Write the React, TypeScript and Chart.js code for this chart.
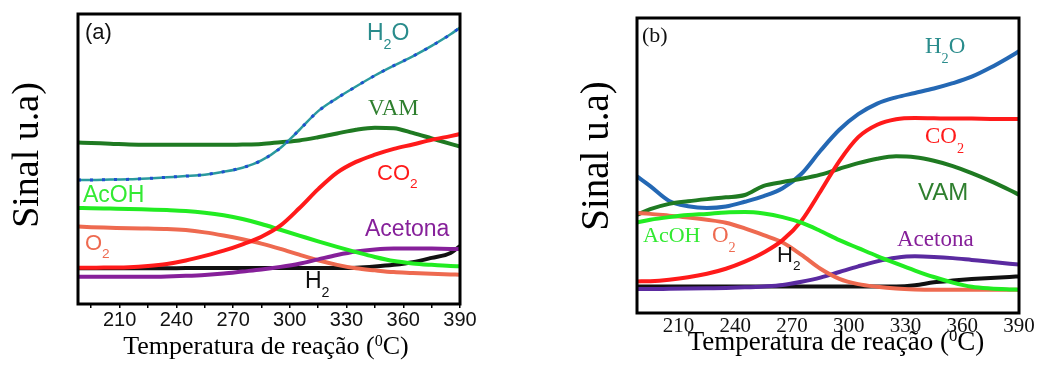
import React, { useEffect, useRef } from 'react';
import { Chart, registerables } from 'chart.js';

Chart.register(...registerables);

// ---------- DATA ----------
const temps = [188, 195, 205, 215, 225, 235, 245, 255, 265, 275, 285, 295, 305, 315, 325, 335, 345, 355, 365, 375, 385, 390];
const xTicksA = [195, 210, 225, 240, 255, 270, 285, 300, 315, 330, 345, 360, 375, 390];
const xTicksB = [210, 240, 270, 300, 330, 360, 390];

// Panel (a)
const h2oA = [42.8, 42.8, 42.9, 43.0, 43.3, 43.7, 44.1, 44.6, 45.6, 47.0, 49.5, 53.8, 60.0, 66.5, 71.0, 75.0, 78.8, 82.2, 85.4, 89.0, 93.0, 95.3];
const vamA = [55.7, 55.5, 55.3, 55.0, 54.9, 54.9, 54.9, 54.9, 54.9, 55.0, 55.2, 55.8, 56.4, 57.5, 58.8, 60.1, 60.8, 60.6, 59.0, 57.1, 55.2, 54.3];
const co2A = [12.5, 12.5, 12.6, 12.7, 13.1, 13.8, 15.0, 16.6, 18.4, 20.6, 23.2, 27.0, 33.0, 39.6, 45.3, 49.0, 51.5, 53.5, 55.0, 56.6, 57.9, 58.6];
const acohA = [33.1, 33.0, 32.9, 32.8, 32.6, 32.4, 32.1, 31.5, 30.6, 29.3, 27.6, 25.6, 23.6, 21.6, 19.7, 17.9, 16.2, 14.8, 14.0, 13.5, 13.1, 13.0];
const o2A = [26.7, 26.5, 26.3, 26.1, 26.0, 25.9, 25.5, 24.7, 23.6, 22.3, 20.8, 19.0, 17.0, 15.1, 13.5, 12.3, 11.6, 11.0, 10.7, 10.4, 10.2, 10.1];
const h2A = [12.3, 12.3, 12.3, 12.3, 12.3, 12.3, 12.4, 12.4, 12.4, 12.4, 12.4, 12.4, 12.4, 12.4, 12.4, 12.5, 12.9, 13.5, 14.4, 15.9, 17.6, 20.0];
const acetonaA = [9.4, 9.4, 9.4, 9.4, 9.4, 9.5, 9.7, 10.0, 10.5, 11.2, 11.9, 12.8, 13.9, 15.4, 16.9, 18.1, 18.8, 19.1, 19.1, 19.1, 19.0, 19.0];

// Panel (b)
const h2oB = [46.3, 43.0, 38.0, 36.2, 35.6, 36.1, 37.7, 39.6, 42.3, 47.2, 55.0, 62.1, 67.4, 71.0, 73.1, 74.6, 76.1, 77.9, 80.1, 83.2, 86.8, 88.7];
const co2B = [10.7, 10.8, 11.3, 12.1, 13.3, 15.0, 17.4, 20.5, 24.7, 31.3, 41.2, 51.5, 59.6, 63.8, 65.7, 66.1, 66.0, 65.9, 65.9, 65.8, 65.8, 65.8];
const vamB = [33.3, 35.2, 37.0, 37.9, 38.6, 39.2, 40.0, 43.1, 44.4, 45.5, 46.9, 48.9, 50.8, 52.3, 53.1, 52.8, 51.6, 49.8, 47.4, 44.7, 41.7, 40.1];
const acohB = [30.7, 31.6, 32.5, 33.2, 33.6, 34.1, 34.2, 33.7, 32.5, 30.6, 27.8, 24.7, 22.0, 19.3, 16.8, 14.4, 12.2, 10.3, 8.9, 8.3, 8.0, 7.9];
const o2B = [33.9, 33.6, 33.0, 32.4, 31.6, 30.6, 28.7, 26.4, 23.9, 19.7, 15.0, 11.6, 9.8, 8.9, 8.3, 8.0, 7.9, 7.9, 7.9, 7.9, 7.9, 7.9];
const h2B = [9.0, 9.0, 9.0, 9.0, 9.0, 9.0, 9.0, 9.0, 9.0, 9.0, 9.0, 9.0, 9.0, 9.0, 9.0, 9.4, 10.4, 11.0, 11.5, 11.9, 12.2, 12.4];
const acetonaB = [8.1, 8.1, 8.2, 8.3, 8.4, 8.5, 8.7, 9.0, 9.5, 10.6, 12.0, 13.9, 15.8, 17.5, 18.7, 19.2, 19.0, 18.6, 18.0, 17.4, 16.7, 16.4];

const xTitleMain = 'Temperatura de reação (';
const xTitleSup = '0';
const xTitleEnd = 'C)';
const yTitle = 'Sinal u.a)';

// ---------- STYLE ----------
const SANS = '"Liberation Sans", Arial, sans-serif';
const SERIF = '"Liberation Serif", "Times New Roman", serif';

const C = {
  teal: '#2a9a9e',
  tealText: '#2a8c8c',
  blue: '#2468b4',
  vam: '#1f7a22',
  vamText: '#2f7f2f',
  co2: '#ff1a1a',
  acoh: '#22ec22',
  acohText: '#33ea33',
  o2: '#ee6a50',
  acetona: '#86209a',
  acetonaB: '#5a2aa0',
  h2: '#111111',
};

type Part = [string, '' | 'sub' | 'sup'];
interface Label { parts: Part[]; x: number; y: number; size: number; family: string; color: string; subOff?: number }

function partsWidth(ctx: CanvasRenderingContext2D, parts: Part[], size: number, family: string) {
  let w = 0;
  for (const [t, k] of parts) {
    const s = k ? size * 0.62 : size;
    ctx.font = `${s}px ${family}`;
    w += ctx.measureText(t).width;
  }
  return w;
}

function drawParts(ctx: CanvasRenderingContext2D, parts: Part[], x: number, y: number, size: number, family: string, color: string, subOff = 0.38) {
  ctx.fillStyle = color;
  ctx.textAlign = 'left';
  ctx.textBaseline = 'alphabetic';
  let cx = x;
  for (const [t, k] of parts) {
    const s = k ? size * 0.62 : size;
    ctx.font = `${s}px ${family}`;
    const dy = k === 'sub' ? size * subOff : k === 'sup' ? -size * 0.32 : 0;
    ctx.fillText(t, cx, y + dy);
    cx += ctx.measureText(t).width;
  }
}

interface PanelSpec {
  labels: Label[];
  yTitle: { x: number; y: number; size: number };
  xTitle: { x: number; y: number; size: number };
}

function overlayPlugin(spec: PanelSpec) {
  return {
    id: 'overlay',
    afterDraw(chart: any) {
      const ctx: CanvasRenderingContext2D = chart.ctx;
      const a = chart.chartArea;
      ctx.save();
      ctx.strokeStyle = '#000';
      ctx.lineWidth = 3;
      ctx.strokeRect(a.left, a.top, a.right - a.left, a.bottom - a.top);
      for (const l of spec.labels) drawParts(ctx, l.parts, l.x, l.y, l.size, l.family, l.color, l.subOff);
      // y title
      ctx.save();
      ctx.translate(spec.yTitle.x, spec.yTitle.y);
      ctx.rotate(-Math.PI / 2);
      ctx.font = `${spec.yTitle.size}px ${SERIF}`;
      ctx.fillStyle = '#000';
      ctx.textAlign = 'center';
      ctx.textBaseline = 'alphabetic';
      ctx.fillText(yTitle, 0, 0);
      ctx.restore();
      // x title
      const xp: Part[] = [[xTitleMain, ''], [xTitleSup, 'sup'], [xTitleEnd, '']];
      const w = partsWidth(ctx, xp, spec.xTitle.size, SERIF);
      drawParts(ctx, xp, spec.xTitle.x - w / 2, spec.xTitle.y, spec.xTitle.size, SERIF, '#000');
      ctx.restore();
    },
  };
}

function line(label: string, data: number[], color: string, width: number, extra: any = {}) {
  return {
    label,
    data: temps.map((t, i) => ({ x: t, y: data[i] })),
    borderColor: color,
    backgroundColor: color,
    borderWidth: width,
    pointRadius: 0,
    tension: 0.4,
    cubicInterpolationMode: 'monotone',
    fill: false,
    ...extra,
  };
}

function baseOptions(padding: any, xHeight: number, ticks: number[], tickFont: any, tickPad: number, minorTicks: boolean) {
  return {
    responsive: false,
    animation: false,
    devicePixelRatio: 1,
    layout: { padding },
    plugins: { legend: { display: false }, tooltip: { enabled: false }, title: { display: false } },
    scales: {
      x: {
        type: 'linear',
        min: 188,
        max: 390,
        afterBuildTicks: (s: any) => { s.ticks = ticks.map((v) => ({ value: v })); },
        afterFit: (s: any) => { s.height = xHeight; },
        grid: {
          display: minorTicks,
          drawOnChartArea: false,
          drawTicks: minorTicks,
          tickLength: 4,
          color: '#000',
          lineWidth: 1.5,
        },
        border: { display: false },
        ticks: {
          autoSkip: false,
          maxRotation: 0,
          padding: tickPad,
          color: '#111',
          font: tickFont,
          callback: (v: number) => (v % 30 === 0 ? String(v) : ''),
        },
      },
      y: { type: 'linear', min: 0, max: 100, display: false },
    },
  };
}

const specA: PanelSpec = {
  labels: [
    { parts: [['(a)', '']], x: 85, y: 39, size: 22, family: SANS, color: '#111' },
    { parts: [['H', ''], ['2', 'sub'], ['O', '']], x: 367, y: 40, size: 23, family: SANS, color: C.tealText },
    { parts: [['VAM', '']], x: 368, y: 115, size: 23, family: SERIF, color: C.vamText },
    { parts: [['CO', ''], ['2', 'sub']], x: 377, y: 180, size: 22, family: SANS, color: C.co2 },
    { parts: [['AcOH', '']], x: 83, y: 202, size: 23, family: SANS, color: C.acohText },
    { parts: [['O', ''], ['2', 'sub']], x: 85, y: 250, size: 22, family: SANS, color: C.o2 },
    { parts: [['Acetona', '']], x: 365, y: 236, size: 23, family: SANS, color: C.acetona },
    { parts: [['H', ''], ['2', 'sub']], x: 305, y: 288, size: 23, family: SANS, color: '#111' },
  ],
  yTitle: { x: 38, y: 155, size: 38 },
  xTitle: { x: 266, y: 354, size: 26 },
};

const specB: PanelSpec = {
  labels: [
    { parts: [['(b)', '']], x: 123, y: 42, size: 22, family: SERIF, color: '#111' },
    { parts: [['H', ''], ['2', 'sub'], ['O', '']], x: 406, y: 53, size: 23, family: SERIF, color: C.tealText, subOff: 0.42 },
    { parts: [['CO', ''], ['2', 'sub']], x: 406, y: 143, size: 23, family: SERIF, color: C.co2, subOff: 0.42 },
    { parts: [['VAM', '']], x: 399, y: 200, size: 24, family: SANS, color: C.vamText },
    { parts: [['AcOH', '']], x: 124, y: 242, size: 22, family: SERIF, color: C.acohText },
    { parts: [['O', ''], ['2', 'sub']], x: 193, y: 242, size: 23, family: SERIF, color: C.o2, subOff: 0.42 },
    { parts: [['H', ''], ['2', 'sub']], x: 258, y: 262, size: 22, family: SANS, color: '#111' },
    { parts: [['Acetona', '']], x: 378, y: 246, size: 23, family: SERIF, color: C.acetona },
  ],
  yTitle: { x: 89, y: 156, size: 39 },
  xTitle: { x: 317, y: 350, size: 27 },
};

function configA() {
  return {
    type: 'line',
    data: {
      datasets: [
        line('CO2', co2A, C.co2, 4),
        line('AcOH', acohA, C.acoh, 4),
        line('Acetona', acetonaA, C.acetona, 4),
        line('O2', o2A, C.o2, 4),
        line('H2', h2A, C.h2, 4),
        line('H2O dots', h2oA, '#1f4fd0', 3, { borderDash: [3, 9] }),
        line('H2O', h2oA, C.teal, 2.5),
        line('VAM', vamA, C.vam, 4),
      ],
    },
    options: baseOptions({ left: 78, right: 59, top: 14, bottom: 0 }, 63, xTicksA, { family: SANS, size: 20 }, 0, true),
    plugins: [overlayPlugin(specA)],
  };
}

function configB() {
  return {
    type: 'line',
    data: {
      datasets: [
        line('AcOH', acohB, C.acoh, 4),
        line('CO2', co2B, C.co2, 4),
        line('O2', o2B, C.o2, 4),
        line('Acetona', acetonaB, C.acetonaB, 4),
        line('H2', h2B, C.h2, 4),
        line('VAM', vamB, C.vam, 4),
        line('H2O', h2oB, C.blue, 4),
      ],
    },
    options: baseOptions({ left: 118, right: 19, top: 18, bottom: 0 }, 54, xTicksB, { family: SERIF, size: 21 }, 1, false),
    plugins: [overlayPlugin(specB)],
  };
}

function Panel({ make, left }: { make: () => any; left: number }) {
  const ref = useRef<HTMLCanvasElement | null>(null);
  useEffect(() => {
    if (!ref.current) return;
    const chart = new Chart(ref.current, make());
    return () => chart.destroy();
  }, [make]);
  return (
    <div style={{ position: 'absolute', left, top: 0, width: 519, height: 367 }}>
      <canvas ref={ref} width={519} height={367} style={{ width: 519, height: 367, display: 'block' }} />
    </div>
  );
}

export default function App() {
  return (
    <div style={{ position: 'absolute', left: 0, top: 0, width: 1038, height: 367, background: '#fff', overflow: 'hidden' }}>
      <Panel make={configA} left={0} />
      <Panel make={configB} left={519} />
    </div>
  );
}
